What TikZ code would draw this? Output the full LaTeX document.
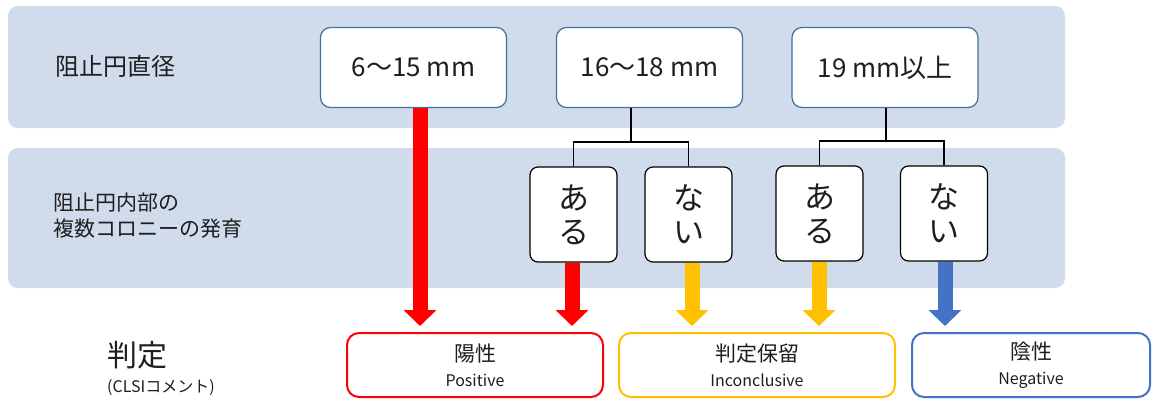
\documentclass[tikz,border=0pt]{standalone}
\usepackage{fontspec}
\setmainfont{Noto Sans CJK JP}
\usetikzlibrary{arrows.meta}
\definecolor{bandc}{RGB}{208,219,236}
\definecolor{topline}{RGB}{65,113,156}
\definecolor{myred}{RGB}{255,0,0}
\definecolor{myyel}{RGB}{255,192,0}
\definecolor{myblue}{RGB}{68,114,196}
\definecolor{txt}{RGB}{30,30,30}
\tikzset{
  bandbox/.style={fill=bandc, draw=none, rounded corners=10pt},
  topbox/.style={draw=topline, fill=white, line width=1.2pt, rounded corners=10pt,
    minimum width=186pt, minimum height=80pt, inner sep=0pt, text=txt,
    font=\fontsize{26}{30}\selectfont},
  midbox/.style={draw=black, fill=white, line width=1.2pt, rounded corners=8pt,
    minimum width=87pt, minimum height=95pt, inner sep=0pt, align=center, text=txt,
    font=\fontsize{31}{34}\selectfont},
  resbox/.style={fill=white, line width=2pt, rounded corners=12pt,
    minimum height=64pt, inner sep=0pt, align=center, text=txt,
    font=\fontsize{16}{25}\selectfont},
  lbl/.style={anchor=west, inner sep=0pt, text=txt, align=left},
  brk/.style={draw=black, line width=1.5pt},
  fat/.style={line width=15pt, -{Triangle[length=16pt 0 0, width=32pt 0 0]}, shorten >=6pt}
}
\newcommand{\restext}[2]{{\fontsize{21}{25}\selectfont #1}\\#2}
\begin{document}
\begin{tikzpicture}[x=1pt,y=-1pt]
\useasboundingbox (0,0) rectangle (1153,399);
\fill[white] (0,0) rectangle (1153,399);
% bands
\path[bandbox] (8,6) rectangle (1065,128);
\path[bandbox] (8,148) rectangle (1065,288);
% row labels
\node[lbl, font=\fontsize{24}{28}\selectfont] (l1) at (55,66) {阻止円直径};
\node[lbl, font=\fontsize{21}{26}\selectfont] (l2) at (53,216) {阻止円内部の\\複数コロニーの発育};
\node[lbl, font=\fontsize{30}{34}\selectfont] (l3) at (107,355) {判定};
\node[lbl, font=\fontsize{16}{20}\selectfont] (l4) at (107,388) {(CLSIコメント)};
% top boxes
\node[topbox] (t1) at (413.5,67.5) {6～15 mm};
\node[topbox] (t2) at (649.5,67.5) {16～18 mm};
\node[topbox] (t3) at (885,67.5) {19 mm以上};
% middle boxes
\node[midbox] (m1) at (573.5,214.5) {あ\\る};
\node[midbox] (m2) at (688.5,214.5) {な\\い};
\node[midbox] (m3) at (819.5,213.5) {あ\\る};
\node[midbox] (m4) at (944,213.5) {な\\い};
% result boxes
\node[resbox, draw=myred, minimum width=256pt] (p) at (475,365) {\restext{陽性}{Positive}};
\node[resbox, draw=myyel, minimum width=276pt] (i) at (757,365) {\restext{判定保留}{Inconclusive}};
\node[resbox, draw=myblue, minimum width=238pt] (n) at (1031,365) {\restext{陰性}{Negative}};
% brackets
\coordinate (b1) at (631,142);
\coordinate (b2) at (886,141);
\draw[brk] (t2.south -| b1) -- (b1) -| (m1.north);
\draw[brk] (b1) -| (m2.north);
\draw[brk] (t3.south -| b2) -- (b2) -| (m3.north);
\draw[brk] (b2) -| (m4.north);
% fat arrows
\draw[fat, myred] (t1.south -| 420,0) -- (p.north -| 420,0);
\draw[fat, myred] (m1.south -| 572,0) -- (p.north -| 572,0);
\draw[fat, myyel] (m2.south -| 692,0) -- (i.north -| 692,0);
\draw[fat, myyel] (m3.south -| 819,0) -- (i.north -| 819,0);
\draw[fat, myblue] (m4.south -| 945,0) -- (n.north -| 945,0);
\end{tikzpicture}
\end{document}
